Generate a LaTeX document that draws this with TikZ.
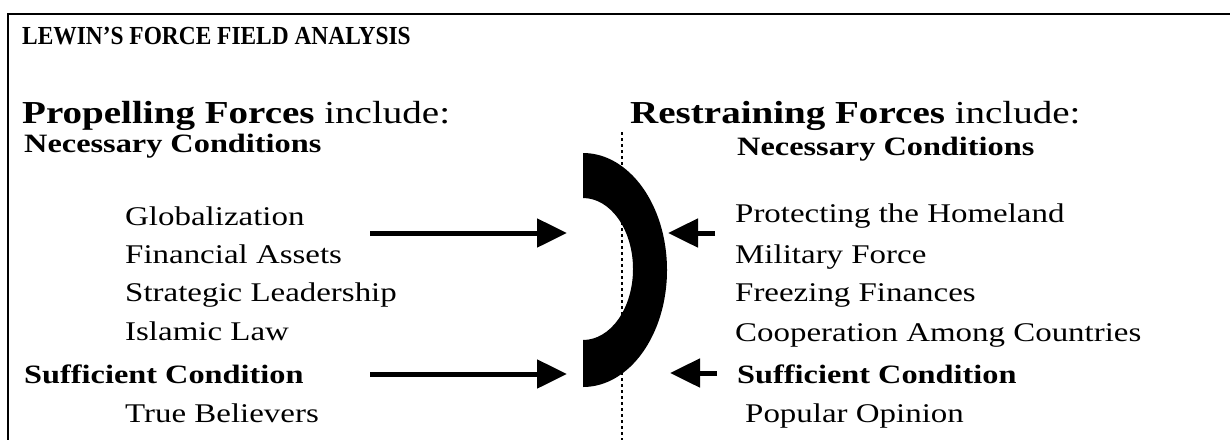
\documentclass[tikz,border=0pt]{standalone}
\usepackage{fontspec}
\setmainfont{Liberation Serif}
\newfontfamily\widefont[FakeStretch=1.22]{Liberation Serif}
\newfontfamily\narrowfont[FakeStretch=0.9]{Liberation Serif}
\usetikzlibrary{arrows.meta}

\begin{document}
\begin{tikzpicture}[
    x=1pt, y=-1pt,
    heading/.style={anchor=base west, inner sep=0pt, font=\narrowfont\bfseries\fontsize{26}{30}\selectfont},
    forces/.style={anchor=base west, inner sep=0pt, font=\widefont\fontsize{32}{36}\selectfont},
    condition/.style={anchor=base west, inner sep=0pt, font=\widefont\bfseries\fontsize{26.5}{30}\selectfont},
    factor/.style={anchor=base west, inner sep=0pt, font=\widefont\fontsize{27}{32}\selectfont},
    push/.style={line width=5pt, -{Triangle[length=30pt,width=28pt]}}
  ]
    \useasboundingbox (0,0) rectangle (1230,440);
    \draw[line width=1.4pt] (1230,14) -- (8,14) -- (8,440);

    \node[heading] (title) at (22,44) {LEWIN’S FORCE FIELD ANALYSIS};

    % propelling side
    \node[forces] (propelling) at (22,123) {\textbf{Propelling Forces} include:};
    \node[condition] (necessary-p) at (24,152) {Necessary Conditions};
    \node[factor] (globalization) at (125,225) {Globalization};
    \node[factor] (assets) at (125,263) {Financial Assets};
    \node[factor] (leadership) at (125,301) {Strategic Leadership};
    \node[factor] (law) at (125,340) {Islamic Law};
    \node[condition] (sufficient-p) at (24,383) {Sufficient Condition};
    \node[factor] (believers) at (125,422) {True Believers};

    % restraining side
    \node[forces] (restraining) at (630,123) {\textbf{Restraining Forces} include:};
    \node[condition] (necessary-r) at (737,155) {Necessary Conditions};
    \node[factor] (homeland) at (735,222) {Protecting the Homeland};
    \node[factor] (military) at (735,263) {Military Force};
    \node[factor] (finances) at (735,301) {Freezing Finances};
    \node[factor] (cooperation) at (735,341) {Cooperation Among Countries};
    \node[condition] (sufficient-r) at (737,383) {Sufficient Condition};
    \node[factor] (opinion) at (745,422) {Popular Opinion};

    % the line between the two fields
    \draw[line width=1.2pt, dash pattern=on 3pt off 3pt] (622,132) -- (622,440);

    % the barrier
    \fill (583,153) arc[start angle=-90, end angle=90, x radius=84, y radius=117]
      -- (583,340) arc[start angle=90, end angle=-90, x radius=50, y radius=71] -- cycle;

    \coordinate (p-top-tail) at (370,233);
    \coordinate (p-top-tip) at (567,233);
    \coordinate (p-low-tail) at (370,374);
    \coordinate (p-low-tip) at (567,374);
    \coordinate (r-top-tail) at (715,233);
    \coordinate (r-top-tip) at (668,233);
    \coordinate (r-low-tail) at (717,373);
    \coordinate (r-low-tip) at (670,373);

    \draw[push] (p-top-tail) -- (p-top-tip);
    \draw[push] (p-low-tail) -- (p-low-tip);
    \draw[push] (r-top-tail) -- (r-top-tip);
    \draw[push] (r-low-tail) -- (r-low-tip);
  \end{tikzpicture}
\end{document}
